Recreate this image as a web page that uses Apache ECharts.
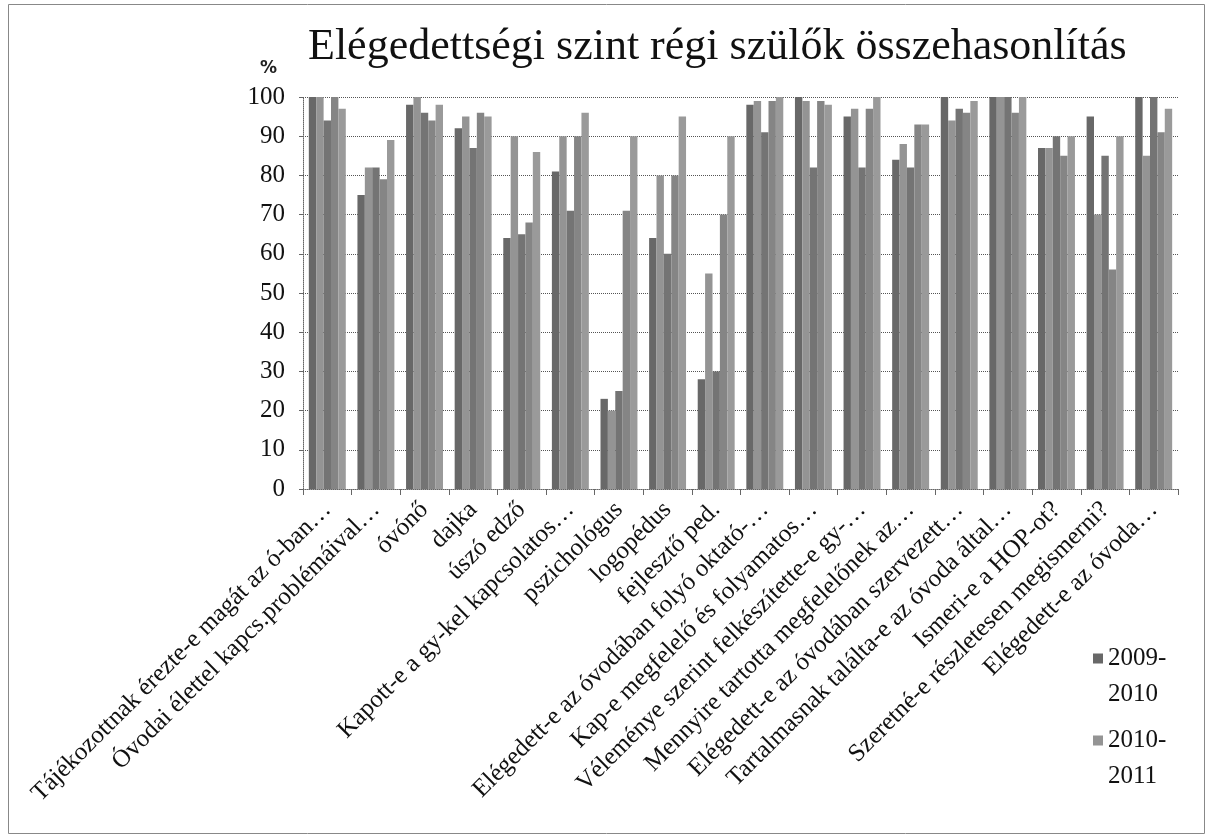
<!DOCTYPE html>
<html>
<head>
<meta charset="utf-8">
<script src="https://cdn.jsdelivr.net/npm/echarts@6/dist/echarts.min.js"></script>
<style>
  html, body { margin: 0; padding: 0; background: #fff; }
  #chart { width: 1210px; height: 836px; }
</style>
</head>
<body>
<div id="chart"></div>
<script>
// kategóriák (x tengely)
const categories = [
  'Tájékozottnak érezte-e magát az ó-ban…',
  'Óvodai élettel kapcs.problémáival…',
  'óvónő',
  'dajka',
  'úszó edző',
  'Kapott-e a gy-kel kapcsolatos…',
  'pszichológus',
  'logopédus',
  'fejlesztő ped.',
  'Elégedett-e az óvodában folyó oktató-…',
  'Kap-e megfelelő és folyamatos…',
  'Véleménye szerint felkészítette-e gy-…',
  'Mennyire tartotta megfelelőnek az…',
  'Elégedett-e az óvodában szervezett…',
  'Tartalmasnak találta-e az óvoda által…',
  'Ismeri-e a HOP-ot?',
  'Szeretné-e részletesen megismerni?',
  'Elégedett-e az óvoda…'
];

// sorozatok (csak az első kettő látszik a jelmagyarázatban)
const seriesNames = ['2009-2010', '2010-2011', '3. sor', '4. sor', '5. sor'];
const legendNames = ['2009-2010', '2010-2011'];

const s1 = [100, 75, 98, 92, 64, 81, 23, 64, 28, 98, 100, 95, 84, 100, 100, 87, 95, 100];
const s2 = [100, 82, 100, 95, 90, 90, 20, 80, 55, 99, 99, 97, 88, 94, 100, 87, 70, 85];
const s3 = [94, 82, 96, 87, 65, 71, 25, 60, 30, 91, 82, 82, 82, 97, 100, 90, 85, 100];
const s4 = [100, 79, 94, 96, 68, 90, 71, 80, 70, 99, 99, 97, 93, 96, 96, 85, 56, 91];
const s5 = [97, 89, 98, 95, 86, 96, 90, 95, 90, 100, 98, 100, 93, 99, 100, 90, 90, 97];
const values = [s1, s2, s3, s4, s5];

const yTicks = { min: 0, max: 100, interval: 10 };

const colors = ['#686868', '#949494', '#747474', '#858585', '#9a9a9a'];
const serif = 'Liberation Serif';

// négyzet a jel tetején, hogy az első szövegsorhoz igazodjon
const legendIcon = 'path://M0,0h10v10h-10z M0,45h0.01v0.01h-0.01z';

const chart = echarts.init(document.getElementById('chart'));
chart.setOption({
  animation: false,
  color: colors,
  textStyle: { fontFamily: serif, color: '#111' },
  title: {
    text: 'Elégedettségi szint régi szülők összehasonlítás',
    left: 303,
    top: 20,
    textStyle: { fontFamily: serif, fontSize: 44, fontWeight: 'normal', color: '#111' }
  },
  legend: {
    data: legendNames.map(n => ({ name: n, icon: legendIcon })),
    orient: 'vertical',
    left: 1088,
    top: 635,
    itemWidth: 10,
    itemHeight: 46,
    itemGap: 10,
    formatter: n => n.replace('-', '-\n'),
    textStyle: { fontFamily: serif, fontSize: 25, color: '#111', lineHeight: 36 }
  },
  grid: { left: 303, right: 32, top: 97, bottom: 347 },
  xAxis: {
    type: 'category',
    data: categories,
    axisLine: { lineStyle: { color: '#666', type: 'dotted' } },
    axisTick: { show: true, interval: 0, length: 6, lineStyle: { color: '#666' } },
    axisLabel: {
      interval: 0,
      rotate: 45,
      margin: 17,
      fontFamily: serif,
      fontSize: 25,
      color: '#111'
    }
  },
  yAxis: {
    type: 'value',
    min: yTicks.min,
    max: yTicks.max,
    interval: yTicks.interval,
    name: '%',
    nameLocation: 'end',
    nameGap: 20,
    nameTextStyle: { fontFamily: 'DejaVu Sans', fontSize: 17, fontWeight: 'bold', color: '#222', align: 'right', padding: [0, 26, 0, 0] },
    axisLine: { show: true, lineStyle: { color: '#666', type: 'dotted' } },
    axisTick: { show: true, length: 4, lineStyle: { color: '#666' } },
    axisLabel: { fontFamily: serif, fontSize: 25, color: '#111', margin: 18 },
    splitLine: { lineStyle: { color: '#555', type: 'dotted' } }
  },
  graphic: [{
    type: 'rect',
    shape: { x: 8.5, y: 4.5, width: 1196, height: 829 },
    style: { fill: 'none', stroke: '#888', lineWidth: 1 },
    silent: true
  }],
  series: values.map((v, i) => ({
    name: seriesNames[i],
    type: 'bar',
    data: v,
    barGap: '0%',
    barCategoryGap: '24%'
  }))
});
</script>
</body>
</html>
